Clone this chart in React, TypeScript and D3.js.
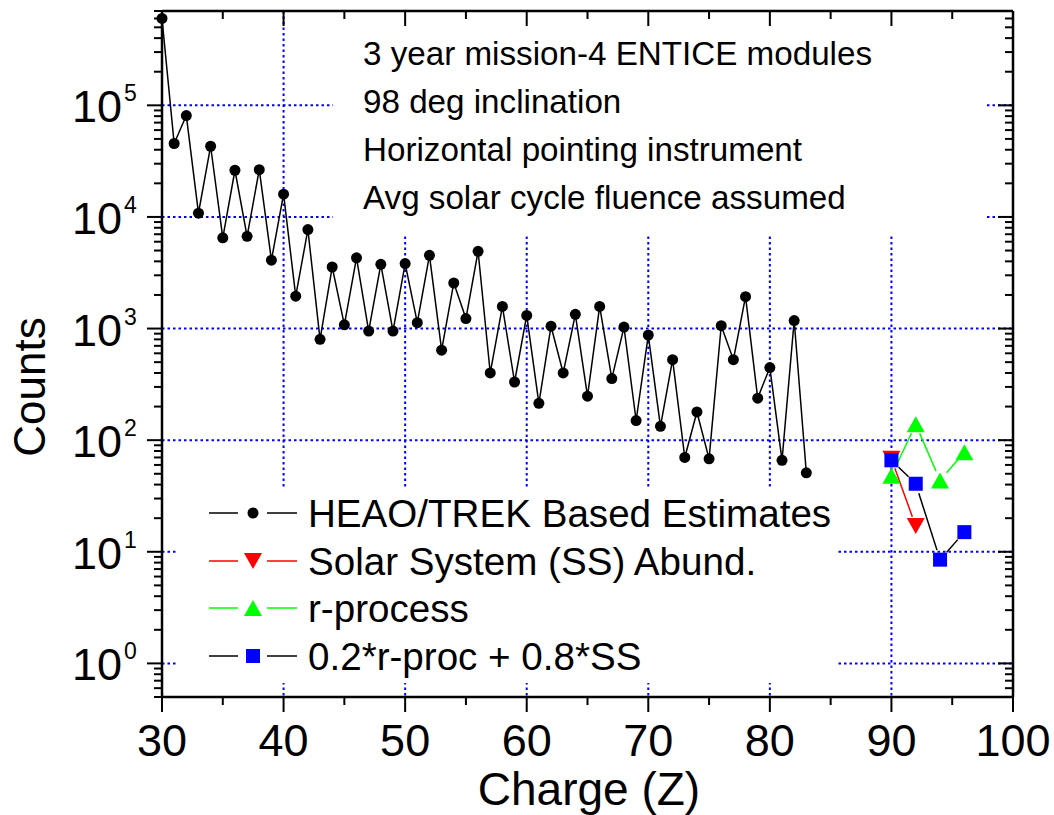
import React from 'react';
import * as d3 from 'd3';

const heaoZ = [30, 31, 32, 33, 34, 35, 36, 37, 38, 39, 40, 41, 42, 43, 44, 45, 46, 47, 48, 49, 50, 51, 52, 53, 54, 55, 56, 57, 58, 59, 60, 61, 62, 63, 64, 65, 66, 67, 68, 69, 70, 71, 72, 73, 74, 75, 76, 77, 78, 79, 80, 81, 82, 83];
const heaoCounts = [6.0e5, 4.55e4, 8.1e4, 1.08e4, 4.3e4, 6.5e3, 2.62e4, 6.7e3, 2.65e4, 4.1e3, 1.6e4, 1.95e3, 7.7e3, 800, 3.56e3, 1.08e3, 4.3e3, 950, 3.76e3, 950, 3.82e3, 1.13e3, 4.53e3, 640, 2.56e3, 1.23e3, 4.92e3, 400, 1.58e3, 332, 1.31e3, 214, 1.05e3, 400, 1.34e3, 248, 1.58e3, 356, 1.03e3, 150, 875, 133, 526, 70, 179, 68, 1.06e3, 526, 1.93e3, 238, 447, 66, 1.18e3, 51];

const ssZ = [90, 92];
const ssCounts = [68, 17];
const rZ = [90, 92, 94, 96];
const rCounts = [48, 139, 43.6, 78];
const mixZ = [90, 92, 94, 96];
const mixCounts = [66, 40.7, 8.5, 15];

const xTicks = [30, 40, 50, 60, 70, 80, 90, 100];
const xMinorTicks = [35, 45, 55, 65, 75, 85, 95];
const yExponents = [0, 1, 2, 3, 4, 5];

const annotationLines = [
  '3 year mission-4 ENTICE modules',
  '98 deg inclination',
  'Horizontal pointing instrument',
  'Avg solar cycle fluence assumed',
];
const legendLabels = [
  'HEAO/TREK Based Estimates',
  'Solar System (SS) Abund.',
  'r-process',
  '0.2*r-proc + 0.8*SS',
];

const FONT = "'Liberation Sans', Arial, Helvetica, sans-serif";
const BLUE = '#0000FF';

const L = 162, R = 1013, T = 11, B = 697;

export default function App() {
  const x = d3.scaleLinear().domain([30, 100]).range([L, R]);
  const y = d3.scaleLog().domain([0.5, 7e5]).range([B, T]);

  const yMinor: number[] = [];
  for (let e = -1; e <= 5; e++) {
    for (let m = 2; m <= 9; m++) {
      const v = m * Math.pow(10, e);
      if (v >= 0.5 && v <= 7e5) yMinor.push(v);
    }
  }

  const line = d3.line<[number, number]>().x(d => x(d[0])).y(d => y(d[1]));
  const heaoPts: [number, number][] = heaoZ.map((z, i) => [z, heaoCounts[i]]);

  const gapSegments = (zs: number[], vs: number[], gap: number) => {
    const segs: { x1: number; y1: number; x2: number; y2: number }[] = [];
    for (let i = 0; i < zs.length - 1; i++) {
      const ax = x(zs[i]), ay = y(vs[i]), bx = x(zs[i + 1]), by = y(vs[i + 1]);
      const dx = bx - ax, dy = by - ay;
      const len = Math.hypot(dx, dy);
      if (len <= 2 * gap) continue;
      const ux = dx / len, uy = dy / len;
      segs.push({ x1: ax + ux * gap, y1: ay + uy * gap, x2: bx - ux * gap, y2: by - uy * gap });
    }
    return segs;
  };

  const triDown = (cx: number, cy: number, w = 18, h = 16) =>
    `M${cx - w / 2},${cy - h / 2}L${cx + w / 2},${cy - h / 2}L${cx},${cy + h / 2}Z`;
  const triUp = (cx: number, cy: number, w = 18, h = 16) =>
    `M${cx - w / 2},${cy + h / 2}L${cx + w / 2},${cy + h / 2}L${cx},${cy - h / 2}Z`;

  const legendY = [513, 561, 608, 656];
  const legendColors = ['#000000', '#FF0000', '#00FF00', '#000000'];

  const renderSymbol = (k: number, cx: number, cy: number, key: string) => {
    if (k === 0) return <circle key={key} cx={cx} cy={cy} r={5.5} fill="#000" />;
    if (k === 1) return <path key={key} d={triDown(cx, cy)} fill="#FF0000" />;
    if (k === 2) return <path key={key} d={triUp(cx, cy)} fill="#00FF00" />;
    return <rect key={key} x={cx - 7} y={cy - 7} width={14} height={14} fill="#0000FF" />;
  };

  return (
    <svg width={1054} height={815} style={{ position: 'absolute', left: 0, top: 0, background: '#fff' }} fontFamily={FONT}>
      <rect x={0} y={0} width={1054} height={815} fill="#fff" />
      {/* grid */}
      <g stroke={BLUE} strokeWidth={2} strokeDasharray="2.5,3">
        {xTicks.filter(t => t > 30 && t < 100).map(t => (
          <line key={'gx' + t} x1={x(t)} x2={x(t)} y1={T} y2={B} />
        ))}
        {yExponents.map(e => (
          <line key={'gy' + e} x1={L} x2={R} y1={y(Math.pow(10, e))} y2={y(Math.pow(10, e))} />
        ))}
      </g>
      {/* white boxes for annotation and legend */}
      <rect x={333} y={T + 1} width={985 - 333} height={235 - T - 1} fill="#fff" />
      <rect x={178} y={488} width={838 - 178} height={683 - 488} fill="#fff" />

      {/* HEAO series */}
      <path d={line(heaoPts) || ''} fill="none" stroke="#000" strokeWidth={1.5} />
      {heaoPts.map((p, i) => (
        <circle key={'h' + i} cx={x(p[0])} cy={y(p[1])} r={5.5} fill="#000" />
      ))}

      {/* SS series */}
      {gapSegments(ssZ, ssCounts, 10).map((s, i) => (
        <line key={'ssl' + i} {...s} stroke="#FF0000" strokeWidth={1.5} />
      ))}
      {ssZ.map((z, i) => (
        <path key={'ss' + i} d={triDown(x(z), y(ssCounts[i]))} fill="#FF0000" />
      ))}
      {/* r-process */}
      {gapSegments(rZ, rCounts, 10).map((s, i) => (
        <line key={'rl' + i} {...s} stroke="#00FF00" strokeWidth={1.5} />
      ))}
      {rZ.map((z, i) => (
        <path key={'r' + i} d={triUp(x(z), y(rCounts[i]))} fill="#00FF00" />
      ))}
      {/* mix */}
      {gapSegments(mixZ, mixCounts, 10).map((s, i) => (
        <line key={'ml' + i} {...s} stroke="#000" strokeWidth={1.5} />
      ))}
      {mixZ.map((z, i) => (
        <rect key={'m' + i} x={x(z) - 7} y={y(mixCounts[i]) - 7} width={14} height={14} fill="#0000FF" />
      ))}

      {/* axes frame */}
      <g stroke="#000" strokeWidth={2.5} fill="none">
        <line x1={L} x2={R} y1={B} y2={B} />
        <line x1={L} x2={R} y1={T} y2={T} />
        <line x1={L} x2={L} y1={T} y2={B} />
        <line x1={R} x2={R} y1={T} y2={B} />
      </g>
      {/* ticks */}
      <g stroke="#000" strokeWidth={2}>
        {xTicks.map(t => (
          <g key={'xt' + t}>
            <line x1={x(t)} x2={x(t)} y1={B} y2={B + 15} />
            <line x1={x(t)} x2={x(t)} y1={T} y2={T + 15} />
          </g>
        ))}
        {xMinorTicks.map(t => (
          <g key={'xm' + t}>
            <line x1={x(t)} x2={x(t)} y1={B} y2={B + 8} />
            <line x1={x(t)} x2={x(t)} y1={T} y2={T + 8} />
          </g>
        ))}
        {yExponents.map(e => {
          const yy = y(Math.pow(10, e));
          return (
            <g key={'yt' + e}>
              <line x1={L - 15} x2={L} y1={yy} y2={yy} />
              <line x1={R - 15} x2={R} y1={yy} y2={yy} />
            </g>
          );
        })}
        {yMinor.map((v, i) => {
          const yy = y(v);
          return (
            <g key={'ym' + i}>
              <line x1={L - 8} x2={L} y1={yy} y2={yy} />
              <line x1={R - 8} x2={R} y1={yy} y2={yy} />
            </g>
          );
        })}
      </g>
      {/* tick labels */}
      <g fill="#000">
        {xTicks.map(t => (
          <text key={'xl' + t} x={x(t)} y={756} fontSize={45} textAnchor="middle">{t}</text>
        ))}
        {yExponents.map(e => {
          const yy = y(Math.pow(10, e));
          return (
            <g key={'yl' + e}>
              <text x={122} y={yy + 17} fontSize={45} textAnchor="end">10</text>
              <text x={124} y={yy - 4} fontSize={23} textAnchor="start">{e}</text>
            </g>
          );
        })}
      </g>
      {/* axis titles */}
      <text x={589} y={805} fontSize={46} textAnchor="middle">Charge (Z)</text>
      <text transform="translate(45,387) rotate(-90)" fontSize={44} textAnchor="middle">Counts</text>

      {/* annotation */}
      {annotationLines.map((s, i) => (
        <text key={'a' + i} x={363} y={65 + i * 48} fontSize={33.2}>{s}</text>
      ))}

      {/* legend */}
      {legendLabels.map((s, i) => (
        <g key={'lg' + i}>
          <line x1={209} x2={238} y1={legendY[i]} y2={legendY[i]} stroke={legendColors[i]} strokeWidth={1.5} />
          <line x1={267} x2={297} y1={legendY[i]} y2={legendY[i]} stroke={legendColors[i]} strokeWidth={1.5} />
          {renderSymbol(i, 253, legendY[i], 'ls' + i)}
          <text x={308} y={legendY[i] + 14} fontSize={38.6}>{s}</text>
        </g>
      ))}
    </svg>
  );
}
